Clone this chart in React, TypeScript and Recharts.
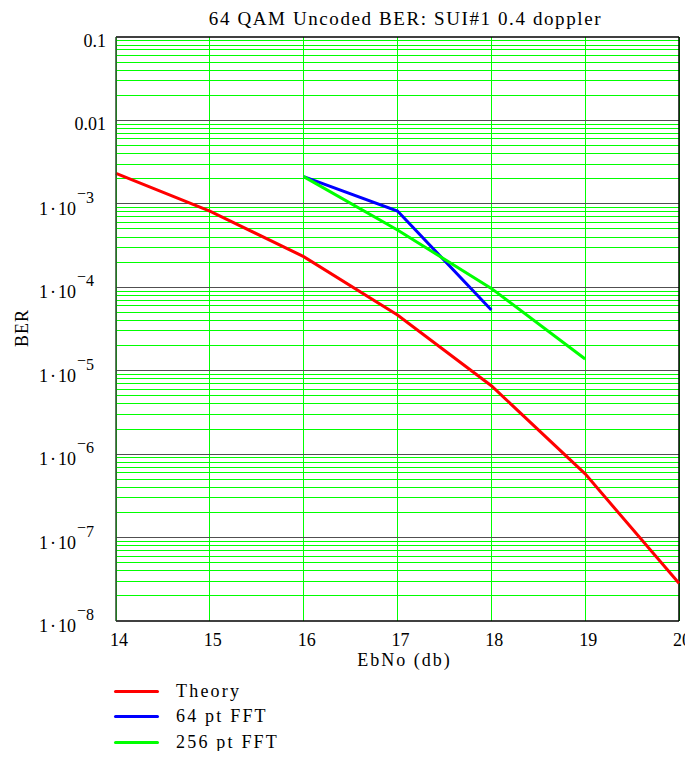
import React from "react";
import { LineChart, Line, XAxis, YAxis, CartesianGrid, ReferenceLine } from "recharts";

const xValues = [14, 15, 16, 17, 18, 19, 20];
const theory = [2.32e-3, 8.2e-4, 2.33e-4, 4.65e-5, 6.6e-6, 5.8e-7, 2.83e-8];
const fft64 = [null, null, 2.12e-3, 8.2e-4, 5.35e-5, null, null];
const fft256 = [null, null, 2.12e-3, 4.86e-4, 9.7e-5, 1.38e-5, null];

const yTicks = [1e-8, 1e-7, 1e-6, 1e-5, 1e-4, 1e-3, 0.01, 0.1];
const minorMultipliers = [2, 3, 4, 5, 6, 7, 8, 9];
const decadeLines = [1e-7, 1e-6, 1e-5, 1e-4, 1e-3, 0.01];

const title = "64 QAM Uncoded BER: SUI#1 0.4 doppler";
const xLabel = "EbNo (db)";
const yLabel = "BER";

const series = [
  { key: "theory", name: "Theory", color: "#ff0000" },
  { key: "fft64", name: "64 pt FFT", color: "#0000ff" },
  { key: "fft256", name: "256 pt FFT", color: "#00ff00" },
];

const data = xValues.map((x, i) => ({
  x,
  theory: theory[i],
  fft64: fft64[i],
  fft256: fft256[i],
}));

const minorValues: number[] = [];
for (let e = -8; e <= -2; e++) {
  for (const m of minorMultipliers) minorValues.push(m * Math.pow(10, e));
}

const FONT = "'Liberation Serif', 'Times New Roman', serif";

const YTick = (props: any) => {
  const { x, y, payload } = props;
  const v = payload.value;
  const e = Math.round(Math.log10(v));
  if (e >= -2) {
    return (
      <text x={x - 10} y={y} dy={10} textAnchor="end" fontFamily={FONT} fontSize={18} fill="#000">
        {e === -1 ? "0.1" : "0.01"}
      </text>
    );
  }
  return (
    <text x={x - 22} y={y} dy={11} textAnchor="end" fontFamily={FONT} fontSize={18} fill="#000">
      <tspan>1</tspan>
      <tspan dx={2}>·</tspan>
      <tspan dx={2}>10</tspan>
      <tspan dx={1} dy={-16} fontSize={16}>−</tspan>
      <tspan dy={4} fontSize={16}>{String(-e)}</tspan>
    </text>
  );
};

const XTick = (props: any) => {
  const { x, y, payload } = props;
  return (
    <text x={x + 3} y={y} dy={25} textAnchor="middle" fontFamily={FONT} fontSize={18} fill="#000">
      {String(payload.value)}
    </text>
  );
};

export default function App() {
  return (
    <div style={{ position: "relative", width: 685, height: 743 }}>
      <LineChart
        width={685}
        height={743}
        data={data}
        margin={{ top: 29, right: 14, left: 0, bottom: 100 }}
      >
        <CartesianGrid horizontal={false} vertical={true} stroke="#00ff00" strokeWidth={1} shapeRendering="crispEdges" />
        {minorValues.map((v) => (
          <ReferenceLine key={"m" + v} y={v} stroke="#00ff00" strokeWidth={1} shapeRendering="crispEdges" />
        ))}
        {decadeLines.map((v) => (
          <ReferenceLine key={"d" + v} y={v} stroke="#505050" strokeWidth={1} shapeRendering="crispEdges" />
        ))}
        <ReferenceLine y={0.1} stroke="#000" strokeWidth={1.5} />
        <ReferenceLine x={20} stroke="#000" strokeWidth={1.5} />
        <XAxis
          dataKey="x"
          type="number"
          domain={[14, 20]}
          ticks={xValues}
          tick={<XTick />}
          tickLine={false}
          tickSize={0}
          tickMargin={0}
          axisLine={{ stroke: "#000", strokeWidth: 1.5 }}
          height={30}
          interval={0}
        />
        <YAxis
          scale="log"
          domain={[1e-8, 0.1]}
          allowDataOverflow
          ticks={yTicks}
          tick={<YTick />}
          tickLine={false}
          tickSize={0}
          tickMargin={0}
          axisLine={{ stroke: "#2a4a2a", strokeWidth: 1.5 }}
          width={108}
          interval={0}
        />
        {series.map((s) => (
          <Line
            key={s.key}
            dataKey={s.key}
            name={s.name}
            stroke={s.color}
            strokeWidth={3}
            dot={false}
            activeDot={false}
            isAnimationActive={false}
            connectNulls={false}
            type="linear"
          />
        ))}
      </LineChart>
      <div
        style={{
          position: "absolute",
          left: 108,
          width: 563,
          top: 0,
          textAlign: "center",
          fontFamily: FONT,
          fontSize: 19,
          letterSpacing: 1.6,
          paddingLeft: 16,
          boxSizing: "border-box",
          whiteSpace: "nowrap",
        }}
      >
        {title}
      </div>
      <div
        style={{
          position: "absolute",
          left: 108,
          width: 563,
          top: 643,
          lineHeight: "18px",
          textAlign: "center",
          fontFamily: FONT,
          fontSize: 18,
          letterSpacing: 2,
          paddingLeft: 14,
          boxSizing: "border-box",
        }}
      >
        {xLabel}
      </div>
      <div
        style={{
          position: "absolute",
          left: 14,
          top: 320,
          fontFamily: FONT,
          fontSize: 18,
          letterSpacing: 1,
          transform: "translate(-50%, -50%) rotate(-90deg)",
          whiteSpace: "nowrap",
        }}
      >
        {yLabel}
      </div>
      {series.map((s, i) => (
        <div
          key={s.key}
          style={{
            position: "absolute",
            left: 106,
            top: 671 + i * 25.5,
            height: 24,
            display: "flex",
            alignItems: "center",
            fontFamily: FONT,
            fontSize: 18,
            letterSpacing: 2.2,
            whiteSpace: "nowrap",
          }}
        >
          <span
            style={{
              display: "inline-block",
              width: 45,
              height: 3,
              background: s.color,
              borderRadius: 2,
              marginRight: 17,
            }}
          />
          <span>{s.name}</span>
        </div>
      ))}
    </div>
  );
}
